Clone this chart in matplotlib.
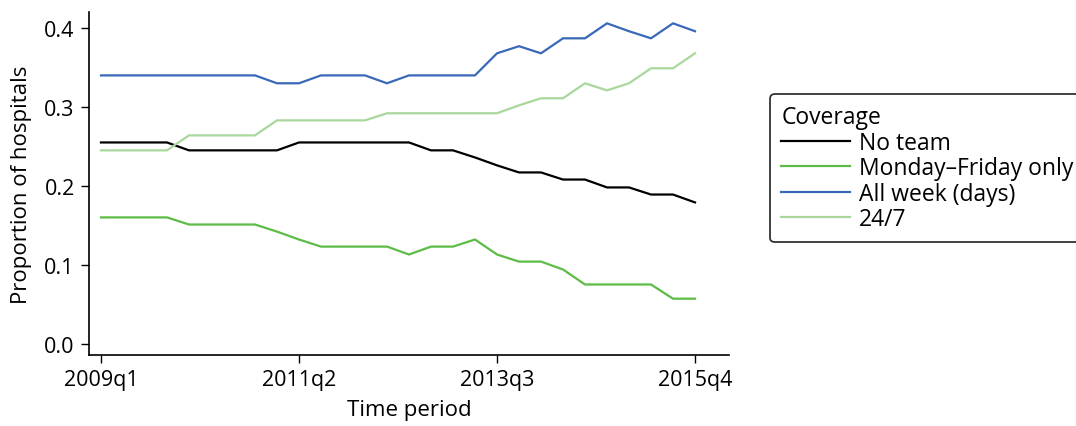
import numpy as np
import matplotlib
matplotlib.use('Agg')
import matplotlib.pyplot as plt

# Quarterly periods 2009q1 .. 2015q4
quarters = [f'{y}q{q}' for y in range(2009, 2016) for q in range(1, 5)]
tick_labels = ['2009q1', '2011q2', '2013q3', '2015q4']

# Proportion of hospitals by weekly coverage of the team
no_team = [0.255, 0.255, 0.255, 0.255, 0.245, 0.245, 0.245, 0.245, 0.245, 0.255,
           0.255, 0.255, 0.255, 0.255, 0.255, 0.245, 0.245, 0.236, 0.226, 0.217,
           0.217, 0.208, 0.208, 0.198, 0.198, 0.189, 0.189, 0.179]
mon_fri = [0.160, 0.160, 0.160, 0.160, 0.151, 0.151, 0.151, 0.151, 0.142, 0.132,
           0.123, 0.123, 0.123, 0.123, 0.113, 0.123, 0.123, 0.132, 0.113, 0.104,
           0.104, 0.094, 0.075, 0.075, 0.075, 0.075, 0.057, 0.057]
all_week = [0.340, 0.340, 0.340, 0.340, 0.340, 0.340, 0.340, 0.340, 0.330, 0.330,
            0.340, 0.340, 0.340, 0.330, 0.340, 0.340, 0.340, 0.340, 0.368, 0.377,
            0.368, 0.387, 0.387, 0.406, 0.396, 0.387, 0.406, 0.396]
full_247 = [0.245, 0.245, 0.245, 0.245, 0.264, 0.264, 0.264, 0.264, 0.283, 0.283,
            0.283, 0.283, 0.283, 0.292, 0.292, 0.292, 0.292, 0.292, 0.292, 0.302,
            0.311, 0.311, 0.330, 0.321, 0.330, 0.349, 0.349, 0.368]

series = [
    ('No team', no_team, '#000000'),
    ('Monday\u2013Friday only', mon_fri, '#5cbc45'),
    ('All week (days)', all_week, '#3a68b8'),
    ('24/7', full_247, '#a9d79c'),
]

plt.rcParams['font.family'] = ['Open Sans', 'DejaVu Sans']
plt.rcParams['font.size'] = 15

fig = plt.figure(figsize=(10.76, 4.27), dpi=100)
ax = fig.add_axes([0.083, 0.167, 0.5942, 0.8019])

x = np.arange(len(quarters))
for name, vals, col in series:
    ax.plot(x, vals, color=col, lw=1.6, label=name)

ax.set_xlim(-0.53, 28.53)
ax.set_ylim(-0.014, 0.42)
ax.set_xticks([quarters.index(t) for t in tick_labels])
ax.set_xticklabels(tick_labels)
ax.set_yticks([0.0, 0.1, 0.2, 0.3, 0.4])
ax.set_yticklabels(['0.0', '0.1', '0.2', '0.3', '0.4'])
ax.tick_params(direction='out', length=5.5, width=1, pad=5, labelsize=15.5)

for side in ['top', 'right']:
    ax.spines[side].set_visible(False)
for side in ['left', 'bottom']:
    ax.spines[side].set_linewidth(1.2)

ax.set_xlabel('Time period', labelpad=6, fontsize=16)
ax.set_ylabel('Proportion of hospitals', labelpad=9, fontsize=16)

leg = fig.legend(loc='upper left', bbox_to_anchor=(770 / 1076, 1 - 95 / 427),
                 title='Coverage', alignment='left', frameon=True, fancybox=True,
                 handlelength=3.0, handletextpad=0.4, labelspacing=0.06,
                 borderpad=0.5, borderaxespad=0, fontsize=16.5, title_fontsize=16.5)
leg.get_frame().set_edgecolor('black')
leg.get_frame().set_linewidth(1.3)

fig.savefig('out.png', dpi=100)
